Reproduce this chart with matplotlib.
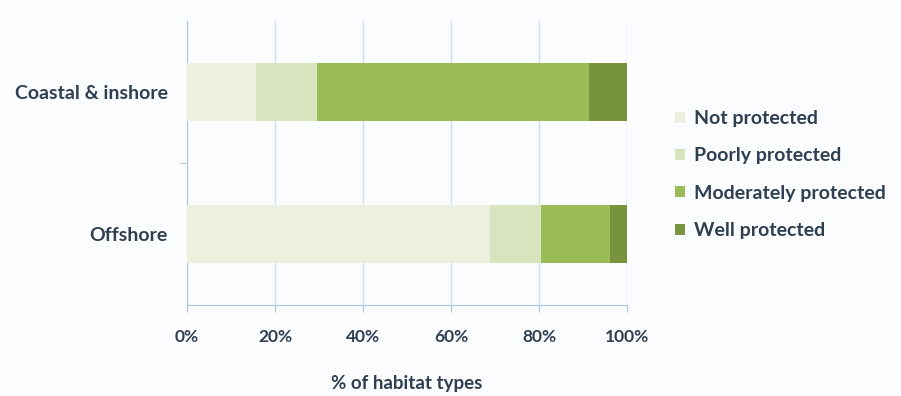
import matplotlib
matplotlib.use("Agg")
import matplotlib.pyplot as plt
from matplotlib.patches import Patch
import numpy as np

categories = ["Coastal & inshore", "Offshore"]
series_names = ["Not protected", "Poorly protected", "Moderately protected", "Well protected"]
not_protected = [15.7, 68.9]
poorly_protected = [13.8, 11.5]
moderately_protected = [61.9, 15.7]
well_protected = [8.6, 3.9]
colors = ["#EBF1DE", "#D7E4BD", "#9BBB59", "#77933C"]
xticks = [0, 20, 40, 60, 80, 100]
xticklabels = ["0%", "20%", "40%", "60%", "80%", "100%"]

plt.rcParams['font.family'] = ['Lato', 'DejaVu Sans']
text_color = "#2F3E50"
bg = "#FBFCFE"

fig = plt.figure(figsize=(9.01, 3.96), dpi=100, facecolor=bg)
ax = fig.add_axes([0.2075, 0.2298, 0.4884, 0.7172], facecolor=bg)

ypos = [1, 0]
left = np.zeros(2)
for vals, name, c in zip([not_protected, poorly_protected, moderately_protected, well_protected], series_names, colors):
    ax.barh(ypos, vals, left=left, height=0.41, color=c, label=name, zorder=3)
    left += np.array(vals)

ax.set_xlim(0, 100)
ax.set_ylim(-0.5, 1.5)
ax.set_xticks(xticks)
ax.set_xticklabels(xticklabels, fontsize=12.5, fontweight='bold', color=text_color)
ax.set_yticks(ypos)
ax.set_yticklabels(categories, fontsize=14, fontweight='bold', color=text_color)
ax.set_yticks([0.5], minor=True)
ax.tick_params(axis='y', which='major', length=0, pad=14)
ax.tick_params(axis='y', which='minor', length=5, color="#A9C4DC")
ax.tick_params(axis='x', length=5, color="#A9C4DC", pad=12)
ax.grid(axis='x', color="#D0E0F0", linewidth=1, zorder=0)
for s in ['top', 'right']:
    ax.spines[s].set_visible(False)
for s in ['left', 'bottom']:
    ax.spines[s].set_color("#A9C4DC")
ax.set_xlabel("% of habitat types", fontsize=13.5, fontweight='bold', color=text_color, labelpad=22)

handles = [Patch(facecolor=c, edgecolor='none') for c in colors]
fig.legend(handles, series_names, loc='center left', bbox_to_anchor=(0.749, 0.559),
           frameon=False, prop={'weight': 'bold', 'size': 14},
           handlelength=0.5, handleheight=0.5, handletextpad=0.5, labelspacing=1.05,
           labelcolor=text_color, borderpad=0, borderaxespad=0)

fig.savefig("out.png", dpi=100, facecolor=bg)
